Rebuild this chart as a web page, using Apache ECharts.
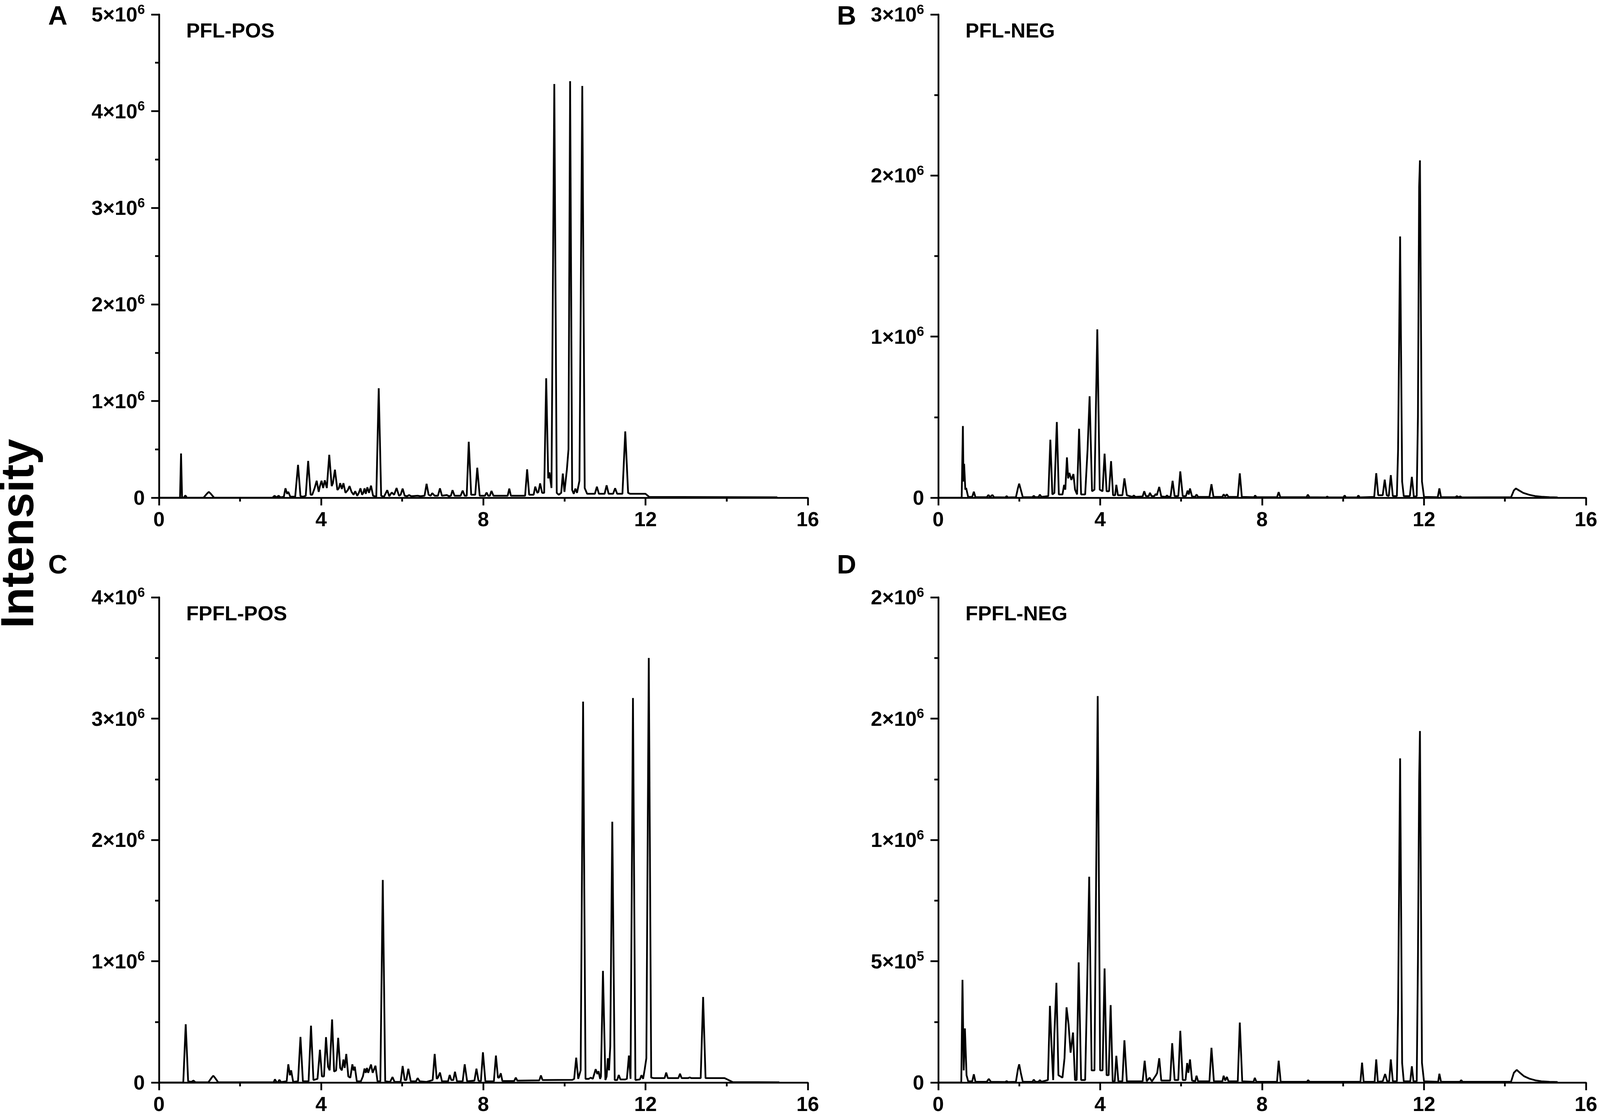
<!DOCTYPE html>
<html>
<head>
<meta charset="utf-8">
<script src="https://cdn.jsdelivr.net/npm/echarts@6/dist/echarts.min.js"></script>
<style>
html,body{margin:0;padding:0;background:#fff;overflow:hidden;}
#chart{width:100vw;height:100vh;}
</style>
</head>
<body>
<div id="chart"></div>
<script>
// Retention time (min) and intensity (in units of 10^6)
const intensityA = [
[0,0],[0.52,0],[0.545,0.458],[0.57,0.005],[0.62,0],[0.65,0.024],[0.69,0],
[1.1,0],[1.18,0.04],[1.23,0.06],[1.28,0.04],[1.36,0],
[2.8,0],[2.85,0.02],[2.9,0.003],[2.95,0.02],[3.0,0.003],[3.08,0.01],[3.12,0.097],[3.16,0.04],[3.19,0.06],[3.24,0.01],
[3.36,0.01],[3.43,0.34],[3.49,0.015],[3.55,0.01],[3.62,0.02],[3.68,0.38],[3.74,0.03],[3.78,0.03],[3.84,0.1],[3.89,0.175],[3.94,0.06],[3.97,0.12],[4.01,0.175],[4.05,0.1],[4.09,0.18],[4.14,0.1],[4.2,0.444],[4.26,0.12],[4.29,0.15],[4.34,0.29],[4.4,0.08],[4.44,0.1],[4.47,0.15],[4.51,0.09],[4.55,0.15],[4.6,0.05],[4.66,0.08],[4.7,0.12],[4.75,0.06],[4.8,0.03],[4.84,0.067],[4.89,0.02],[4.93,0.05],[4.97,0.097],[5.01,0.03],[5.04,0.05],[5.07,0.097],[5.1,0.04],[5.14,0.108],[5.18,0.05],[5.23,0.125],[5.28,0.02],
[5.36,0.01],[5.42,1.133],[5.48,0.02],[5.55,0.01],[5.63,0.078],[5.68,0.015],[5.74,0.054],[5.8,0.03],[5.86,0.1],[5.92,0.02],[5.96,0.03],[6.01,0.094],[6.06,0.02],[6.12,0.015],[6.17,0.027],[6.22,0.015],[6.38,0.02],[6.45,0.015],
[6.55,0.02],[6.6,0.144],[6.65,0.03],[6.7,0.02],[6.74,0.047],[6.8,0.02],[6.88,0.02],[6.93,0.097],[6.98,0.02],[7.1,0.027],[7.15,0.015],[7.2,0.02],[7.24,0.078],[7.29,0.02],[7.44,0.02],[7.49,0.074],[7.54,0.02],
[7.59,0.02],[7.64,0.579],[7.7,0.03],[7.8,0.03],[7.85,0.31],[7.91,0.02],[8.04,0.02],[8.08,0.054],[8.12,0.02],[8.16,0.02],[8.2,0.07],[8.25,0.02],[8.6,0.02],[8.64,0.094],[8.68,0.02],[9.03,0.02],[9.08,0.293],[9.13,0.03],[9.24,0.03],[9.28,0.114],[9.33,0.05],[9.36,0.06],[9.4,0.148],[9.45,0.05],
[9.5,0.05],[9.55,1.236],[9.6,0.2],[9.63,0.262],[9.68,0.1],[9.75,4.28],[9.81,0.05],[9.86,0.03],[9.92,0.05],[9.96,0.25],[10.0,0.06],[10.06,0.29],[10.1,0.5],[10.14,4.31],[10.19,0.08],[10.23,0.04],[10.27,0.094],[10.31,0.05],[10.37,0.175],[10.44,4.26],[10.5,0.1],[10.56,0.04],[10.75,0.04],[10.8,0.114],[10.85,0.04],[10.99,0.04],[11.04,0.128],[11.09,0.04],[11.2,0.04],[11.25,0.098],[11.3,0.04],
[11.43,0.04],[11.5,0.686],[11.57,0.05],[11.62,0.04],[12.0,0.04],[12.09,0.008],[15.25,0.004]
];
const intensityB = [
[0,0],[0.58,0],[0.61,0.445],[0.625,0.1],[0.64,0.21],[0.67,0.05],[0.69,0.06],[0.74,0.005],[0.84,0.005],[0.88,0.037],[0.92,0.003],
[1.2,0.003],[1.24,0.017],[1.28,0.004],[1.34,0.017],[1.38,0.003],[1.66,0.002],[1.69,0.01],[1.72,0.002],
[1.92,0.003],[1.97,0.06],[2.0,0.087],[2.04,0.05],[2.09,0.003],
[2.33,0.003],[2.36,0.012],[2.4,0.003],[2.48,0.004],[2.51,0.019],[2.55,0.005],
[2.72,0.01],[2.77,0.36],[2.82,0.02],[2.87,0.03],[2.93,0.47],[2.98,0.02],[3.07,0.02],[3.11,0.08],[3.14,0.05],[3.18,0.25],[3.21,0.12],[3.24,0.154],[3.29,0.11],[3.34,0.147],[3.38,0.05],[3.43,0.02],[3.48,0.428],[3.53,0.02],[3.63,0.02],[3.69,0.3],[3.74,0.63],[3.8,0.04],[3.86,0.05],[3.93,1.045],[3.99,0.05],[4.06,0.04],[4.11,0.273],[4.16,0.04],[4.22,0.04],[4.27,0.227],[4.32,0.015],[4.37,0.015],[4.4,0.08],[4.44,0.015],[4.55,0.015],[4.6,0.12],[4.66,0.015],[4.8,0.005],[4.83,0.014],[4.87,0.005],
[5.05,0.008],[5.09,0.04],[5.13,0.01],[5.2,0.01],[5.23,0.03],[5.27,0.01],[5.34,0.01],[5.37,0.023],[5.4,0.015],[5.46,0.067],[5.51,0.008],[5.62,0.005],[5.65,0.014],[5.69,0.005],
[5.74,0.008],[5.79,0.105],[5.84,0.01],[5.93,0.01],[5.98,0.163],[6.04,0.01],[6.12,0.01],[6.16,0.044],[6.19,0.02],[6.22,0.057],[6.27,0.008],[6.35,0.005],[6.38,0.02],[6.42,0.005],
[6.7,0.005],[6.75,0.084],[6.8,0.005],[7.02,0.005],[7.05,0.021],[7.09,0.008],[7.13,0.021],[7.17,0.005],[7.4,0.005],[7.45,0.151],[7.5,0.005],[7.8,0.003],[7.83,0.014],[7.86,0.003],[8.37,0.003],[8.41,0.035],[8.45,0.003],[9.1,0.003],[9.13,0.019],[9.17,0.003],[9.58,0.002],[9.61,0.007],[9.64,0.002],[10.01,0.002],[10.04,0.014],[10.07,0.002],[10.35,0.002],[10.38,0.014],[10.41,0.002],
[10.77,0.005],[10.82,0.152],[10.87,0.015],[10.98,0.015],[11.03,0.112],[11.08,0.015],[11.13,0.01],[11.18,0.14],[11.23,0.01],[11.33,0.01],[11.36,0.3],[11.41,1.622],[11.46,0.1],[11.5,0.01],[11.65,0.01],[11.7,0.129],[11.75,0.005],[11.82,0.01],[11.85,0.5],[11.88,1.93],[11.9,2.094],[11.95,0.1],[12.0,0.005],
[12.34,0.003],[12.38,0.058],[12.42,0.003],[12.78,0.003],[12.81,0.01],[12.85,0.003],[12.9,0.008],[12.93,0.002],
[14.15,0.003],[14.22,0.045],[14.27,0.057],[14.35,0.045],[14.45,0.03],[14.6,0.018],[14.75,0.01],[14.9,0.006],[15.1,0.003],[15.3,0.002]
];
const intensityC = [
[0,0],[0.6,0],[0.66,0.48],[0.72,0.01],[0.8,0.005],[0.85,0.016],[0.9,0.002],
[1.22,0.002],[1.3,0.04],[1.34,0.056],[1.38,0.04],[1.46,0.002],
[2.83,0.002],[2.86,0.026],[2.9,0.003],[2.94,0.003],[2.97,0.022],[3.01,0.003],
[3.15,0.01],[3.19,0.15],[3.23,0.06],[3.26,0.1],[3.31,0.005],
[3.43,0.01],[3.49,0.376],[3.55,0.01],[3.69,0.01],[3.75,0.468],[3.81,0.02],[3.91,0.03],[3.97,0.27],[4.02,0.05],[4.07,0.05],[4.12,0.374],[4.17,0.13],[4.21,0.1],[4.27,0.52],[4.32,0.09],[4.37,0.1],[4.42,0.368],[4.47,0.12],[4.51,0.1],[4.55,0.19],[4.58,0.12],[4.62,0.235],[4.67,0.05],[4.72,0.04],[4.77,0.15],[4.8,0.1],[4.83,0.13],[4.88,0.01],[4.98,0.01],[5.03,0.05],[5.07,0.115],[5.1,0.08],[5.13,0.12],[5.16,0.08],[5.23,0.148],[5.27,0.08],[5.34,0.138],[5.39,0.01],
[5.46,0.01],[5.52,1.67],[5.58,0.01],[5.7,0.005],[5.76,0.045],[5.81,0.005],[5.96,0.005],[6.01,0.136],[6.06,0.02],[6.1,0.02],[6.15,0.113],[6.21,0.01],[6.34,0.01],[6.38,0.036],[6.43,0.01],
[6.6,0.005],[6.75,0.02],[6.8,0.235],[6.85,0.03],[6.88,0.04],[6.93,0.082],[6.98,0.01],[7.13,0.01],[7.17,0.062],[7.21,0.02],[7.26,0.02],[7.3,0.089],[7.35,0.01],[7.49,0.01],[7.54,0.15],[7.6,0.01],[7.78,0.015],[7.83,0.114],[7.88,0.015],[7.94,0.01],[7.99,0.249],[8.05,0.01],[8.26,0.01],[8.31,0.222],[8.36,0.04],[8.39,0.04],[8.43,0.076],[8.47,0.012],
[8.76,0.012],[8.8,0.04],[8.84,0.015],[9.38,0.018],[9.42,0.058],[9.46,0.02],[10.2,0.022],
[10.24,0.03],[10.29,0.205],[10.34,0.03],[10.4,0.1],[10.46,3.14],[10.52,0.03],[10.6,0.03],[10.65,0.04],[10.7,0.03],[10.77,0.11],[10.81,0.07],[10.84,0.093],[10.88,0.03],[10.9,0.05],[10.95,0.92],[11.01,0.02],[11.04,0.05],[11.07,0.2],[11.1,0.1],[11.13,0.3],[11.18,2.15],[11.24,0.02],[11.3,0.02],[11.34,0.062],[11.38,0.025],[11.5,0.025],[11.54,0.03],[11.59,0.222],[11.63,0.03],[11.69,3.17],[11.75,0.02],[11.86,0.025],[11.9,0.06],[11.94,0.03],[11.98,0.11],[12.02,0.2],[12.08,3.5],[12.14,0.04],[12.2,0.036],
[12.47,0.036],[12.51,0.082],[12.55,0.036],[12.81,0.036],[12.85,0.072],[12.89,0.036],[13.05,0.036],[13.09,0.042],[13.13,0.036],[13.36,0.036],[13.42,0.705],[13.48,0.036],[13.95,0.036],[14.15,0.003],[15.3,0.002]
];
const intensityD = [
[0,0],[0.57,0],[0.6,0.423],[0.63,0.05],[0.66,0.223],[0.7,0.03],[0.74,0.005],[0.84,0.005],[0.88,0.034],[0.92,0.003],
[1.2,0.003],[1.25,0.015],[1.3,0.003],[1.66,0.002],[1.69,0.006],[1.72,0.002],
[1.92,0.003],[1.97,0.055],[2.0,0.075],[2.04,0.04],[2.09,0.003],
[2.33,0.003],[2.36,0.012],[2.4,0.003],[2.48,0.003],[2.51,0.01],[2.55,0.003],
[2.71,0.01],[2.76,0.316],[2.8,0.15],[2.84,0.01],[2.87,0.2],[2.92,0.411],[2.97,0.03],[3.07,0.02],[3.12,0.1],[3.17,0.31],[3.22,0.24],[3.27,0.123],[3.33,0.206],[3.38,0.01],[3.42,0.01],[3.47,0.495],[3.53,0.01],[3.63,0.01],[3.68,0.4],[3.73,0.848],[3.79,0.05],[3.86,0.05],[3.94,1.593],[4.0,0.05],[4.06,0.05],[4.11,0.47],[4.16,0.03],[4.21,0.03],[4.26,0.319],[4.31,0.005],[4.36,0.005],[4.4,0.11],[4.45,0.005],[4.55,0.005],[4.6,0.174],[4.66,0.005],[4.83,0.005],
[5.05,0.005],[5.1,0.09],[5.15,0.005],[5.22,0.02],[5.28,0.005],[5.38,0.03],[5.41,0.04],[5.46,0.1],[5.51,0.008],
[5.73,0.008],[5.78,0.162],[5.84,0.01],[5.93,0.01],[5.98,0.213],[6.04,0.01],[6.11,0.01],[6.15,0.08],[6.18,0.04],[6.22,0.095],[6.27,0.008],[6.35,0.005],[6.38,0.028],[6.42,0.005],
[6.7,0.005],[6.75,0.143],[6.81,0.005],[7.02,0.005],[7.05,0.028],[7.09,0.008],[7.13,0.023],[7.17,0.005],[7.4,0.005],[7.45,0.247],[7.51,0.005],[7.79,0.003],[7.82,0.019],[7.86,0.003],[8.37,0.003],[8.41,0.09],[8.46,0.003],[9.11,0.003],[9.14,0.01],[9.17,0.003],
[10.43,0.003],[10.47,0.082],[10.51,0.003],[10.78,0.003],[10.82,0.095],[10.86,0.003],[10.98,0.005],[11.04,0.035],[11.09,0.005],[11.14,0.005],[11.18,0.095],[11.23,0.005],[11.33,0.005],[11.36,0.3],[11.41,1.336],[11.46,0.08],[11.5,0.005],[11.66,0.005],[11.7,0.067],[11.74,0.005],[11.82,0.005],[11.85,0.5],[11.88,1.24],[11.9,1.449],[11.95,0.08],[12.0,0.005],
[12.35,0.003],[12.38,0.036],[12.42,0.003],[12.89,0.003],[12.92,0.01],[12.95,0.003],
[14.15,0.003],[14.22,0.04],[14.29,0.052],[14.37,0.04],[14.47,0.026],[14.6,0.016],[14.75,0.009],[14.9,0.005],[15.1,0.003],[15.3,0.002]
];

// Tick labels (mantissa×10^exponent written as "m×10^e")
const xTickLabels = ['0','4','8','12','16'];
const yLabelsA = ['0','1×10^6','2×10^6','3×10^6','4×10^6','5×10^6'];
const yLabelsB = ['0','1×10^6','2×10^6','3×10^6'];
const yLabelsC = ['0','1×10^6','2×10^6','3×10^6','4×10^6'];
const yLabelsD = ['0','5×10^5','1×10^6','2×10^6','2×10^6'];

const panelTitles = ['PFL-POS','PFL-NEG','FPFL-POS','FPFL-NEG'];
const panelLetters = ['A','B','C','D'];
const yMax = [5, 3, 4, 2];
const yStep = [1, 1, 1, 0.5];

// layout designed on a 4550 x 2867 canvas, scaled to the actual viewport
const el = document.getElementById('chart');
const W = el.clientWidth || window.innerWidth;
const H = el.clientHeight || window.innerHeight;
const sx = W / 4550, sy = H / 2867, sf = Math.min(sx, sy);
const X = v => v * sx, Y = v => v * sy, F = v => v * sf;

const FONT = '"Liberation Sans", Arial, sans-serif';
const gridBoxes = [
  [452, 37, 1845, 1237],
  [2668, 37, 1842, 1237],
  [452, 1529, 1845, 1242],
  [2668, 1529, 1842, 1242]
];
const grids = gridBoxes.map(b => ({left: X(b[0]), top: Y(b[1]), width: X(b[2]), height: Y(b[3])}));
const seriesData = [intensityA, intensityB, intensityC, intensityD];
const yLabelSets = [yLabelsA, yLabelsB, yLabelsC, yLabelsD];

function supLabel(txt) {
  const i = txt.indexOf('^');
  if (i < 0) return '{m|' + txt + '}';
  return '{m|' + txt.slice(0, i) + '}{s|' + txt.slice(i + 1) + '}';
}
const richStyle = {
  m: {fontSize: F(58), fontWeight: 'bold', fontFamily: FONT, color: '#000', lineHeight: F(66), verticalAlign: 'bottom'},
  s: {fontSize: F(38), fontWeight: 'bold', fontFamily: FONT, color: '#000', lineHeight: F(40), padding: [0, 0, F(26), 0], verticalAlign: 'bottom'}
};
const axisLineStyle = {color: '#000', width: F(5)};
const tickStyle = {color: '#000', width: F(5)};

const option = {
  backgroundColor: '#fff',
  animation: false,
  grid: grids,
  title: panelTitles.map((t, k) => ({
    text: t,
    left: X(gridBoxes[k][0] + 72),
    top: Y(gridBoxes[k][1] + 14),
    textStyle: {fontSize: F(58), fontWeight: 'bold', fontFamily: FONT, color: '#000'}
  })),
  xAxis: grids.map((g, k) => ({
    type: 'value', gridIndex: k, min: 0, max: 16, interval: 4,
    axisLine: {show: true, onZero: false, lineStyle: axisLineStyle},
    axisTick: {show: true, inside: false, length: F(22), lineStyle: tickStyle},
    minorTick: {show: true, splitNumber: 2, length: F(11), lineStyle: tickStyle},
    splitLine: {show: false},
    axisLabel: {
      margin: F(36), fontSize: F(58), fontWeight: 'bold', fontFamily: FONT, color: '#000',
      formatter: v => xTickLabels[Math.round(v / 4)]
    }
  })),
  yAxis: grids.map((g, k) => ({
    type: 'value', gridIndex: k, min: 0, max: yMax[k], interval: yStep[k],
    axisLine: {show: true, lineStyle: axisLineStyle},
    axisTick: {show: true, inside: false, length: F(22), lineStyle: tickStyle},
    minorTick: {show: true, splitNumber: 2, length: F(11), lineStyle: tickStyle},
    splitLine: {show: false},
    axisLabel: {
      margin: F(40),
      formatter: v => supLabel(yLabelSets[k][Math.round(v / yStep[k])]),
      rich: richStyle
    }
  })),
  series: seriesData.map((d, k) => ({
    type: 'line', xAxisIndex: k, yAxisIndex: k, data: d,
    showSymbol: false, symbol: 'none',
    lineStyle: {color: '#000', width: F(5)},
    silent: true
  })),
  graphic: [
    ...panelLetters.map((L, k) => ({
      type: 'text',
      left: X(k % 2 === 0 ? 137 : 2380),
      top: Y(k < 2 ? 10 : 1415),
      style: {text: L, fontSize: F(76), fontWeight: 'bold', fontFamily: FONT, fill: '#000'}
    })),
    {
      type: 'text',
      x: X(58), y: Y(1366), rotation: Math.PI / 2,
      style: {text: 'Intensity', fontSize: 118 * sy, fontWeight: 'bold', fontFamily: FONT, fill: '#000',
              align: 'center', verticalAlign: 'middle'}
    }
  ]
};

const chart = echarts.init(el, null, {renderer: 'canvas'});
chart.setOption(option);
</script>
</body>
</html>
